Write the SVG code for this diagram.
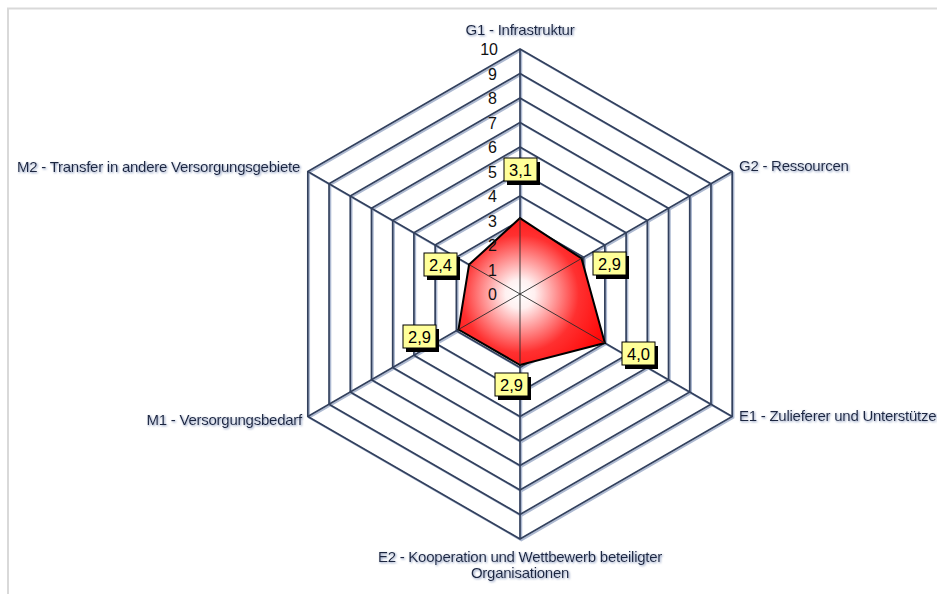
<svg xmlns="http://www.w3.org/2000/svg" xmlns:xlink="http://www.w3.org/1999/xlink" width="937" height="594" viewBox="0 0 937 594">
  <defs>
    <style>
      .frame { stroke: #d9d9d9; stroke-width: 2; fill: none; }
      .grid { fill: none; stroke: #32405d; stroke-width: 1.7; stroke-linejoin: miter; }
      .grid-sh { fill: none; stroke: #adb9d1; stroke-width: 1.9; }
      .spoke-in { stroke: #2a2a2a; stroke-width: 0.9; }
      .series { fill: url(#redFill); stroke: #000; stroke-width: 2; stroke-linejoin: miter; }
      .tick { font-family: "Liberation Sans", Arial, sans-serif; font-size: 16px; fill: #111; text-anchor: end; }
      .cat { font-family: "Liberation Sans", Arial, sans-serif; font-size: 15px; fill: #1b2540; filter: url(#glow); letter-spacing: -0.25px; }
      .vbox { fill: #ffff99; stroke: #000; stroke-width: 1; }
      .vsh { fill: #000; }
      .vtxt { font-family: "Liberation Sans", Arial, sans-serif; font-size: 16.5px; fill: #000; text-anchor: middle; }
    </style>
    <radialGradient id="redFill" gradientUnits="userSpaceOnUse" cx="520" cy="294" r="98">
      <stop offset="0" stop-color="#ffffff"/>
      <stop offset="0.15" stop-color="#fff0f0"/>
      <stop offset="0.6" stop-color="#ff3030"/>
      <stop offset="1" stop-color="#ff0000"/>
    </radialGradient>
    <filter id="glow" x="-10%" y="-40%" width="120%" height="180%">
      <feGaussianBlur in="SourceAlpha" stdDeviation="0.9" result="b"/>
      <feOffset in="b" dx="1" dy="1" result="o"/>
      <feFlood flood-color="#8394bb"/>
      <feComposite in2="o" operator="in" result="s"/>
      <feMerge>
        <feMergeNode in="s"/>
        <feMergeNode in="SourceGraphic"/>
      </feMerge>
    </filter>
    <!-- ring hexagons, radius 24.5 per unit, centre (520,294) -->
    <g id="rings">
      <polygon points="520,269.5 541.22,281.75 541.22,306.25 520,318.5 498.78,306.25 498.78,281.75"/>
      <polygon points="520,245 562.44,269.5 562.44,318.5 520,343 477.56,318.5 477.56,269.5"/>
      <polygon points="520,220.5 583.65,257.25 583.65,330.75 520,367.5 456.35,330.75 456.35,257.25"/>
      <polygon points="520,196 604.87,245 604.87,343 520,392 435.13,343 435.13,245"/>
      <polygon points="520,171.5 626.09,232.75 626.09,355.25 520,416.5 413.91,355.25 413.91,232.75"/>
      <polygon points="520,147 647.31,220.5 647.31,367.5 520,441 392.69,367.5 392.69,220.5"/>
      <polygon points="520,122.5 668.52,208.25 668.52,379.75 520,465.5 371.48,379.75 371.48,208.25"/>
      <polygon points="520,98 689.74,196 689.74,392 520,490 350.26,392 350.26,196"/>
      <polygon points="520,73.5 710.96,183.75 710.96,404.25 520,514.5 329.04,404.25 329.04,183.75"/>
      <polygon points="520,49 732.18,171.5 732.18,416.5 520,539 307.82,416.5 307.82,171.5"/>
      <path d="M520,294 L520,49 M520,294 L732.18,171.5 M520,294 L732.18,416.5 M520,294 L520,539 M520,294 L307.82,416.5 M520,294 L307.82,171.5"/>
    </g>
  </defs>

  <rect width="937" height="594" fill="#ffffff"/>
  <path class="frame" d="M8,594 V8.5 H937"/>

  <!-- grid: soft shadow then dark line -->
  <g id="grid">
    <use xlink:href="#rings" class="grid-sh" transform="translate(1.3,1.3)"/>
    <use xlink:href="#rings" class="grid"/>
  </g>

  <!-- data series -->
  <g id="series">
    <polygon class="series" points="520,218.05 581.53,258.47 604.87,343 520,365.05 458.47,329.53 469.08,264.6"/>
    <path class="spoke-in" d="M520,294 L520,218.05 M520,294 L581.53,258.47 M520,294 L604.87,343 M520,294 L520,365.05 M520,294 L458.47,329.53 M520,294 L469.08,264.6"/>
  </g>

  <!-- scale values -->
  <g id="scale">
    <text class="tick" x="497" y="300">0</text>
    <text class="tick" x="497" y="275.5">1</text>
    <text class="tick" x="497" y="251">2</text>
    <text class="tick" x="497" y="226.5">3</text>
    <text class="tick" x="497" y="202">4</text>
    <text class="tick" x="497" y="177.5">5</text>
    <text class="tick" x="497" y="153">6</text>
    <text class="tick" x="497" y="128.5">7</text>
    <text class="tick" x="497" y="104">8</text>
    <text class="tick" x="497" y="79.5">9</text>
    <text class="tick" x="498" y="55">10</text>
  </g>

  <!-- axes with their category label and value -->
  <g id="axis-G1">
    <text class="cat" x="520" y="35" text-anchor="middle">G1 - Infrastruktur</text>
    <rect class="vsh" x="507" y="162" width="33" height="23"/>
    <rect class="vbox" x="504" y="158" width="33" height="23"/>
    <text class="vtxt" x="520.5" y="175.5">3,1</text>
  </g>
  <g id="axis-G2">
    <text class="cat" x="739" y="171">G2 - Ressourcen</text>
    <rect class="vsh" x="596" y="256" width="33" height="23"/>
    <rect class="vbox" x="593" y="252" width="33" height="23"/>
    <text class="vtxt" x="609.5" y="269.5">2,9</text>
  </g>
  <g id="axis-E1">
    <text class="cat" x="739" y="421">E1 - Zulieferer und Unterstützer</text>
    <rect class="vsh" x="625" y="346" width="33" height="23"/>
    <rect class="vbox" x="622" y="342" width="33" height="23"/>
    <text class="vtxt" x="638.5" y="359.5">4,0</text>
  </g>
  <g id="axis-E2">
    <text class="cat" x="520" y="562" text-anchor="middle">E2 - Kooperation und Wettbewerb beteiligter</text>
    <text class="cat" x="520" y="578" text-anchor="middle">Organisationen</text>
    <rect class="vsh" x="498" y="377" width="33" height="23"/>
    <rect class="vbox" x="495" y="373" width="33" height="23"/>
    <text class="vtxt" x="511.5" y="390.5">2,9</text>
  </g>
  <g id="axis-M1">
    <text class="cat" x="302" y="425" text-anchor="end">M1 - Versorgungsbedarf</text>
    <rect class="vsh" x="406" y="329" width="33" height="23"/>
    <rect class="vbox" x="403" y="325" width="33" height="23"/>
    <text class="vtxt" x="419.5" y="342.5">2,9</text>
  </g>
  <g id="axis-M2">
    <text class="cat" x="300" y="172" text-anchor="end">M2 - Transfer in andere Versorgungsgebiete</text>
    <rect class="vsh" x="427" y="257" width="33" height="23"/>
    <rect class="vbox" x="424" y="253" width="33" height="23"/>
    <text class="vtxt" x="440.5" y="270.5">2,4</text>
  </g>
</svg>
